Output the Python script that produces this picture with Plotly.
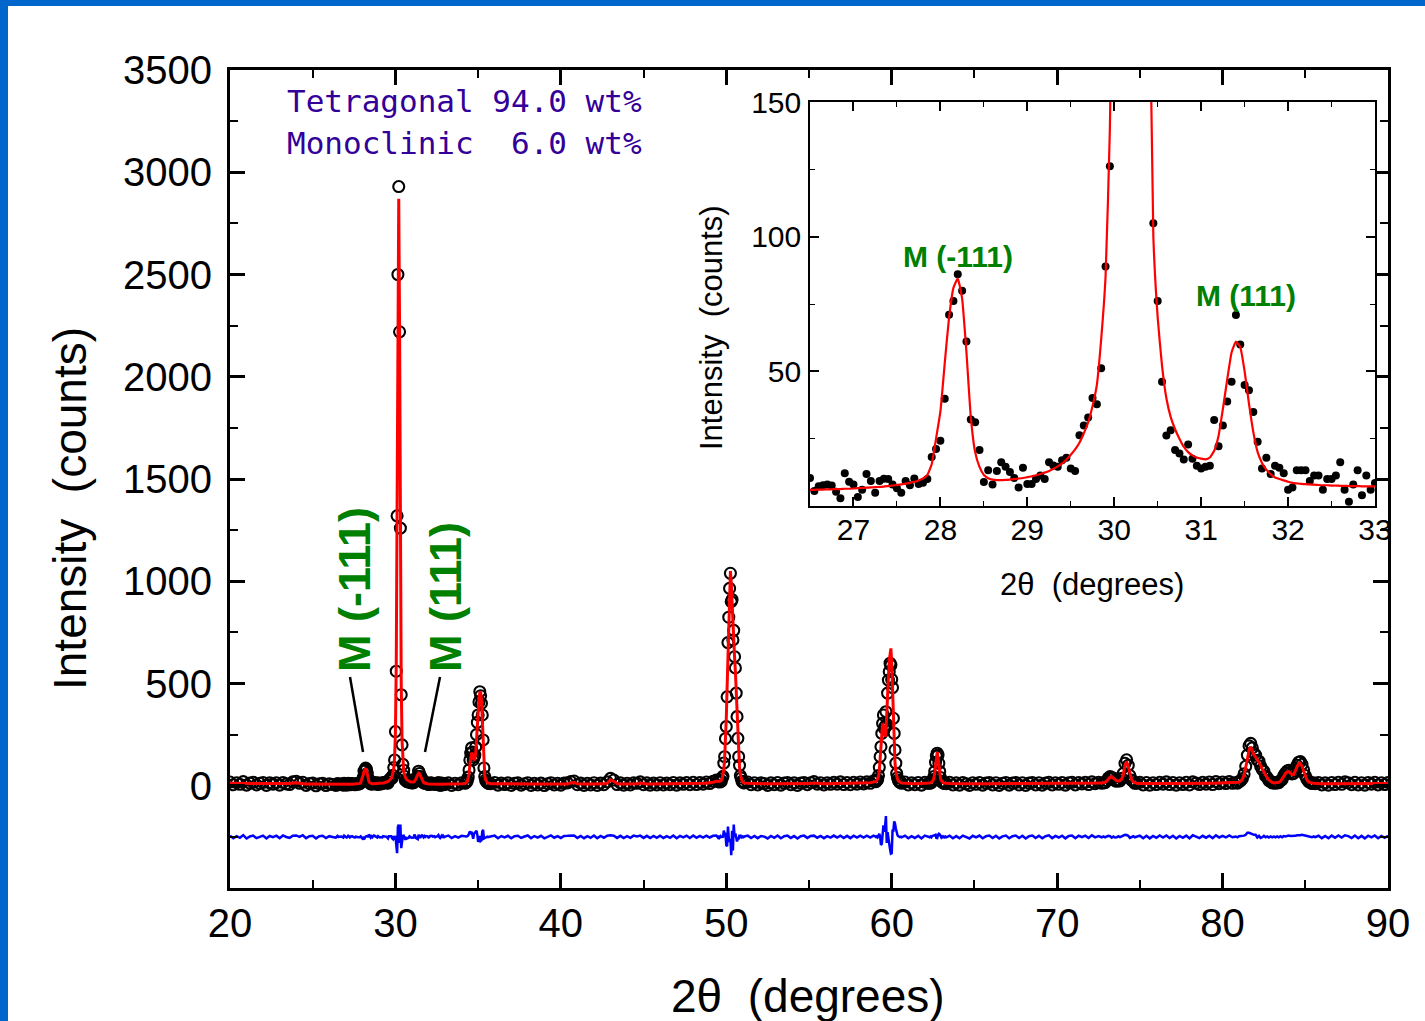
import numpy as np
import plotly.graph_objects as go

# ------------------------------------------------------------------ data
# Each stretch of the scan: first 2-theta value and step (degrees)
seg_start = [20.0, 26.5, 33.2, 34.2, 36.0, 49.5, 51.3, 59.0, 60.8, 62.3, 63.5, 72.8, 75.0, 80.8, 85.8]
seg_step = [0.2, 0.05, 0.2, 0.05, 0.2, 0.05, 0.2, 0.05, 0.2, 0.05, 0.2, 0.1, 0.2, 0.1, 0.2]

# observed counts / calculated (Rietveld) counts for each stretch
obs_20_26 = [18, 5, 15, 7, 20, 3, 13, 17, 4, 12, 16, 2, 14, 8, 15, 3, 16, 9, 6, 19,
             22, 12, 17, 2, 11, 13, 0, 10, 12, 1, 10, 6, 2]
calc_20_26 = [12.0, 11.8, 11.6, 11.4, 11.2, 11.0, 10.8, 10.6, 10.4, 10.2, 10.0, 9.8, 9.6, 9.4,
              9.2, 9.1, 9.2, 9.6, 10.5, 13.0, 15.0, 12.0, 9.0, 8.4, 8.0, 7.7, 7.4, 7.1, 6.9,
              6.7, 6.5, 6.3, 6.1]

obs_26_33 = [10.4, 5.6, 7.3, 7.7, 8.0, 7.6, 5.3, 2.9, 12.2, 9.0, 8.0, 3.3, 6.0, 11.9, 9.3,
             4.9, 9.3, 10.1, 10.0, 8.0, 6.6, 4.9, 9.3, 7.7, 10.2, 8.2, 8.6, 10.0,
             18.2, 21.2, 24.2, 39.8, 71.0, 76.1, 86.0, 79.9, 61.1, 32.1, 31.1, 20.8, 8.9,
             13.3, 8.0, 13.0, 16.2, 14.6, 12.6, 10.4, 6.9, 14.2, 8.2, 8.2, 10.0, 11.3, 10.0,
             16.2, 15.0, 14.6, 17.0, 17.9, 13.9, 13.0, 26.3, 29.9, 32.9, 40.1, 37.8, 51.1,
             88.9, 126.1,
             265, 560, 1320, 2500, 2930, 2220, 1260, 445, 200, 105,
             76.1, 46.1, 26.2, 28.1, 20.8, 19.5, 17.3, 22.8, 17.5, 14.9, 13.9, 14.6, 14.9,
             31.9, 22.2, 29.9, 38.8, 46.1, 70.9, 60.0, 44.9, 43.0, 34.9, 23.9, 13.9, 17.9,
             11.9, 14.9, 14.2, 12.2, 6.0, 6.9, 13.3, 13.3, 13.3, 9.3, 11.3, 11.3, 6.0, 10.0,
             10.0, 11.3, 16.2, 6.0, 1.6, 8.0, 13.3, 4.0, 11.3, 6.0, 8.5]
calc_26_33 = [6.0, 6.0, 6.1, 6.1, 6.2, 6.2, 6.3, 6.3, 6.4, 6.4, 6.5, 6.6, 6.7, 6.8, 6.9, 7.0,
              7.1, 7.2, 7.4, 7.6, 7.8, 8.0, 8.3, 8.6, 9.0, 9.5, 10.2, 11.5,
              15.5, 25.0, 35.0, 53.0, 70.0, 81.0, 84.5, 77.0, 57.0, 33.0, 20.0, 14.5, 11.5,
              10.3, 9.8, 9.6, 9.6, 9.7, 9.8, 10.0, 10.2, 10.4, 10.7, 11.0, 11.4, 11.9, 12.4,
              13.0, 13.8, 14.7, 15.8, 17.2, 19.0, 21.0, 23.5, 27.0, 31.0, 37.0, 45.0, 62.0,
              85.0, 140.0,
              260, 600, 1400, 2450, 2870, 2250, 1200, 500, 220, 100,
              70, 52, 40, 33, 28.5, 25, 22, 20, 18.8, 18.0, 17.6, 17.3, 18.0, 20.5, 26.0,
              36.0, 47.0, 57.0, 61.0, 59.0, 50.0, 38.0, 27.5, 20.0, 16.0, 13.5, 11.8, 10.6,
              10.0, 9.5, 9.0, 8.6, 8.4, 8.2, 8.1, 8.0, 7.9, 7.8, 7.7, 7.7, 7.6, 7.6, 7.5,
              7.5, 7.4, 7.4, 7.4, 7.3, 7.3, 7.3, 7.3]

obs_33_34 = [14, 2, 12, 5, 15]
calc_33_34 = [7.5, 7.8, 8.2, 8.8, 9.8]

obs_34_36 = [12, 15, 18, 26, 42, 77, 126, 160, 185, 165, 126, 140, 150, 190, 250, 310, 346,
             410, 460, 440, 403, 346, 224, 87, 45, 28, 20, 17, 13, 12, 12, 10]
calc_34_36 = [11, 13, 16, 22, 35, 60, 100, 140, 160, 155, 135, 125, 130, 160, 220, 300, 370,
              425, 455, 460, 420, 320, 190, 95, 50, 30, 20, 16, 14, 12, 11, 10]

obs_36_49 = [16, 3, 13, 6, 14, 2, 12, 14, 3, 10,
             15, 2, 12, 4, 13, 1, 10, 15, 4, 12,
             3, 13, 14, 20, 23, 5, 13, 2, 12, 4,
             15, 2, 13, 5, 19, 36, 28, 6, 14, 3,
             12, 4, 15, 12, 19, 5, 14, 3, 13, 4,
             15, 4, 13, 5, 16, 3, 14, 7, 16, 5,
             17, 6, 16, 8, 18, 11, 22, 28]
calc_36_49 = [10.0, 9.5, 9.0, 8.8, 8.6, 8.5, 8.4, 8.3, 8.2, 8.2,
              8.1, 8.1, 8.0, 8.0, 8.0, 8.0, 8.0, 8.0, 8.1, 8.1,
              8.2, 8.4, 9.0, 14.0, 16.0, 10.0, 8.6, 8.4, 8.3, 8.3,
              8.4, 8.5, 8.7, 9.2, 13.0, 28.0, 22.0, 11.0, 9.0, 8.7,
              8.6, 8.6, 8.8, 10.0, 13.0, 10.0, 9.0, 8.8, 8.8, 8.9,
              9.0, 9.1, 9.2, 9.3, 9.4, 9.5, 9.6, 9.8, 10.0, 10.2,
              10.5, 10.8, 11.2, 11.8, 12.6, 14.0, 17.0, 22.0]

obs_49_51 = [20, 27, 18, 25, 22, 38, 46, 111, 142, 230, 289, 435, 700, 824, 965, 1039, 900,
             910, 713, 760, 631, 576, 453, 338, 232, 142, 100, 50, 38, 22, 20, 14, 15]
calc_49_51 = [24, 22, 21, 22, 26, 34, 50, 80, 130, 210, 330, 480, 650, 830, 990, 1050, 990,
              880, 780, 700, 630, 560, 470, 360, 240, 150, 90, 55, 35, 24, 18, 15, 13]

obs_51_59 = [18, 5, 15, 4, 14, 11, 2, 14, 5, 16,
             3, 13, 16, 5, 14, 2, 13, 16, 5, 15,
             20, 8, 15, 4, 14, 7, 17, 8, 19, 6,
             16, 5, 17, 8, 18, 9, 19, 12, 24]
calc_51_59 = [12.0, 11.0, 10.5, 10.2, 10.0, 9.8, 9.7, 9.6, 9.5, 9.5,
              9.5, 9.6, 9.8, 10.2, 10.0, 9.8, 9.8, 9.9, 10.0, 10.5,
              14.0, 12.0, 10.5, 10.3, 10.3, 10.4, 10.6, 11.5, 13.0, 11.5,
              11.0, 11.0, 11.2, 11.5, 12.0, 12.5, 13.5, 15.0, 18.0]

obs_59_61 = [22, 20, 28, 30, 50, 90, 142, 191, 256, 305, 346, 280, 290, 362, 300, 453, 517,
             558, 599, 590, 520, 480, 330, 256, 175, 111, 60, 40, 28, 20, 16, 16, 12]
calc_59_61 = [19, 21, 25, 32, 45, 75, 140, 230, 290, 305, 290, 255, 240, 260, 330, 430, 530,
              610, 660, 672, 600, 450, 300, 180, 110, 70, 45, 32, 25, 20, 17, 15, 14]

obs_61_62 = [18, 4, 14, 5, 16, 3, 17, 12]
calc_61_62 = [12, 11, 10.5, 10.3, 10.3, 10.5, 11, 13]

obs_62_63 = [12, 17, 15, 24, 30, 45, 70, 115, 145, 159, 150, 110, 70, 40, 22, 21, 14, 16, 11,
             13, 10]
calc_62_63 = [14, 15, 17, 20, 26, 38, 62, 105, 150, 165, 140, 95, 58, 36, 25, 19, 16, 14, 13,
              12, 12]

obs_63_73 = [17, 4, 14, 3, 16, 9, 2, 15, 7, 16,
             3, 13, 16, 4, 15, 2, 12, 16, 3, 13,
             16, 4, 15, 2, 13, 16, 4, 15, 3, 13,
             17, 4, 15, 7, 16, 3, 15, 17, 4, 16,
             9, 17, 6, 19, 10, 17, 12]
calc_63_73 = [11.0, 10.5, 10.2, 10.0, 10.0, 9.9, 9.9, 9.8, 9.8, 9.8,
              9.7, 9.7, 9.7, 9.6, 9.6, 9.6, 9.6, 9.5, 9.5, 9.5,
              9.5, 9.5, 9.5, 9.6, 9.6, 9.6, 9.7, 9.7, 9.7, 9.8,
              9.8, 9.9, 10.0, 10.0, 10.1, 10.2, 10.3, 10.4, 10.5, 10.6,
              10.8, 11.0, 11.3, 11.7, 12.2, 13.0, 14.0]

obs_73_75 = [16, 15, 25, 38, 45, 40, 38, 25, 22, 26, 24, 36, 60, 110, 127, 100, 50, 28, 22,
             12, 13]
calc_73_75 = [14, 17, 23, 33, 42, 44, 36, 28, 24, 23, 25, 32, 55, 100, 118, 95, 55, 30, 19,
              14, 12]

obs_75_81 = [17, 4, 16, 3, 15, 6, 17, 8, 19, 6,
             16, 3, 15, 6, 17, 4, 19, 13, 6, 17,
             8, 18, 6, 20, 10, 18, 11, 21, 12]
calc_75_81 = [11.0, 10.5, 10.3, 10.2, 10.2, 10.3, 10.5, 11.5, 12.5, 11.5,
              10.8, 10.6, 10.6, 10.7, 10.8, 11.0, 11.2, 11.4, 11.6, 11.8,
              12.0, 12.2, 12.5, 12.8, 13.0, 13.4, 13.8, 14.2, 14.0]

obs_81_86 = [16, 13, 20, 25, 35, 58, 95, 150, 195, 207, 185, 160, 150, 125, 120, 95, 80, 70,
             48, 40, 25, 22, 14, 15, 12, 17, 15, 25, 30, 50, 62, 72, 75, 66, 58, 60, 75, 100,
             115, 118, 105, 78, 50, 32, 20, 17, 11, 14, 10]
calc_81_86 = [14, 15, 17, 22, 32, 52, 85, 130, 175, 191, 170, 150, 140, 128, 115, 100, 82, 65,
              50, 38, 28, 20, 16, 14, 14, 15, 17, 22, 32, 46, 60, 68, 69, 62, 54, 55, 70, 92,
              108, 110, 95, 70, 45, 28, 19, 15, 13, 12, 11]

obs_86_90 = [16, 4, 14, 3, 16, 6, 17, 7, 19, 15, 5, 17, 4, 15, 3, 16, 8, 17, 4, 15, 6, 16]
calc_86_90 = [10.5, 10.2, 10.0, 10.0, 10.0, 10.1, 10.2, 10.5, 11.0, 11.5, 11.0, 10.6, 10.4,
              10.3, 10.3, 10.3, 10.4, 10.4, 10.5, 10.5, 10.6, 10.6]

diff_offset = -250  # difference curve is drawn shifted down by this amount

# tick values
main_xticks = [20, 30, 40, 50, 60, 70, 80, 90]
main_yticks = [0, 500, 1000, 1500, 2000, 2500, 3000, 3500]
inset_xticks = [27, 28, 29, 30, 31, 32, 33]
inset_yticks = [50, 100, 150]

# ------------------------------------------------------------------ assemble
obs_parts = [obs_20_26, obs_26_33, obs_33_34, obs_34_36, obs_36_49, obs_49_51, obs_51_59,
             obs_59_61, obs_61_62, obs_62_63, obs_63_73, obs_73_75, obs_75_81, obs_81_86,
             obs_86_90]
calc_parts = [calc_20_26, calc_26_33, calc_33_34, calc_34_36, calc_36_49, calc_49_51,
              calc_51_59, calc_59_61, calc_61_62, calc_62_63, calc_63_73, calc_73_75,
              calc_75_81, calc_81_86, calc_86_90]

tt, yo, yc = [], [], []
for s, st, o, c in zip(seg_start, seg_step, obs_parts, calc_parts):
    n = min(len(o), len(c))
    tt.extend(np.round(s + st * np.arange(n), 3))
    yo.extend(o[:n])
    yc.extend(c[:n])
tt = np.array(tt)
yo = np.array(yo, dtype=float)
yc = np.array(yc, dtype=float)
ydiff = yo - yc + diff_offset

n_in = min(len(obs_26_33), len(calc_26_33))
tt_in = np.round(seg_start[1] + seg_step[1] * np.arange(n_in), 3)
yo_in = np.array(obs_26_33[:n_in], dtype=float)
yc_in = np.array(calc_26_33[:n_in], dtype=float)

# ------------------------------------------------------------------ layout helpers
W, H = 1425, 1021
L, R, T, B = 230, 1388, 70, 888


def px(p):
    return (p - L) / (R - L)


def py(p):
    return (B - p) / (B - T)


FONT = "Liberation Sans, Arial, Helvetica, sans-serif"
GREEN = "#008000"
PURPLE = "#330099"

fig = go.Figure()

# main panel
fig.add_trace(go.Scatter(x=tt, y=yo, mode="markers", xaxis="x", yaxis="y",
                         marker=dict(symbol="circle-open", size=11, color="black",
                                     line=dict(width=2.1, color="black")),
                         hoverinfo="skip"))
fig.add_trace(go.Scatter(x=tt, y=yc, mode="lines", xaxis="x", yaxis="y",
                         line=dict(color="#ff0000", width=3), hoverinfo="skip"))
fig.add_trace(go.Scatter(x=tt, y=ydiff, mode="lines", xaxis="x", yaxis="y",
                         line=dict(color="#0000ff", width=2.5), hoverinfo="skip"))

# inset
fig.add_trace(go.Scatter(x=tt_in, y=yo_in, mode="markers", xaxis="x2", yaxis="y2",
                         marker=dict(symbol="circle", size=8, color="black"),
                         hoverinfo="skip"))
fig.add_trace(go.Scatter(x=tt_in, y=yc_in, mode="lines", xaxis="x2", yaxis="y2",
                         line=dict(color="#ff0000", width=2.2, shape="spline", smoothing=0.4),
                         hoverinfo="skip"))

main_ax = dict(showgrid=False, zeroline=False, showline=True, linecolor="black",
               linewidth=3, mirror="ticks", ticks="inside", tickcolor="black",
               tickwidth=2.5, ticklen=15,
               tickfont=dict(family=FONT, size=40, color="black"))
inset_ax = dict(showgrid=False, zeroline=False, showline=True, linecolor="black",
                linewidth=1.6, mirror="ticks", ticks="inside", tickcolor="black",
                tickwidth=1.5, ticklen=9,
                tickfont=dict(family=FONT, size=30, color="black"))

fig.update_layout(
    width=W, height=H,
    margin=dict(l=L, r=W - R, t=T, b=H - B, pad=0),
    paper_bgcolor="white", plot_bgcolor="white",
    showlegend=False, hovermode=False,
    xaxis=dict(main_ax, domain=[0, 1], range=[20, 90], tickvals=main_xticks,
               ticklabelstandoff=-2,
               minor=dict(ticks="inside", dtick=5, tick0=20, ticklen=8, tickwidth=2,
                          tickcolor="black")),
    yaxis=dict(main_ax, domain=[0, 1], range=[-500, 3500], tickvals=main_yticks,
               ticklabelstandoff=7,
               minor=dict(ticks="inside", dtick=250, tick0=0, ticklen=8, tickwidth=2,
                          tickcolor="black")),
    xaxis2=dict(inset_ax, domain=[px(810), px(1375)], anchor="y2", range=[26.5, 33],
                tickvals=inset_xticks, ticklabelstandoff=-4,
                minor=dict(ticks="inside", dtick=0.5, tick0=26.5, ticklen=5, tickwidth=1.2,
                           tickcolor="black")),
    yaxis2=dict(inset_ax, domain=[py(506), py(102)], anchor="x2", range=[0, 150],
                tickvals=inset_yticks, ticklabelstandoff=1,
                minor=dict(ticks="inside", dtick=25, tick0=0, ticklen=5, tickwidth=1.2,
                           tickcolor="black")),
)

ann = []
# axis titles
ann.append(dict(text="Intensity\u00a0 (counts)", x=px(70), y=py(509), textangle=-90,
                font=dict(family=FONT, size=46, color="black")))
ann.append(dict(text="2\u03b8\u00a0 (degrees)", x=px(808), y=py(996),
                font=dict(family=FONT, size=46, color="black")))
ann.append(dict(text="Intensity\u00a0 (counts)", x=px(712), y=py(328), textangle=-90,
                font=dict(family=FONT, size=31, color="black")))
ann.append(dict(text="2\u03b8\u00a0 (degrees)", x=px(1092), y=py(584),
                font=dict(family=FONT, size=31, color="black")))
# phase fractions
ann.append(dict(text="Tetragonal 94.0 wt%", x=px(464), y=py(101),
                font=dict(family="DejaVu Sans Mono, monospace", size=31, color=PURPLE)))
ann.append(dict(text="Monoclinic\u00a0 6.0 wt%", x=px(464), y=py(143),
                font=dict(family="DejaVu Sans Mono, monospace", size=31, color=PURPLE)))
# peak labels, main
ann.append(dict(text="<b>M (-111)</b>", x=px(354), y=py(590), textangle=-90,
                font=dict(family=FONT, size=45, color=GREEN)))
ann.append(dict(text="<b>M (111)</b>", x=px(445), y=py(597), textangle=-90,
                font=dict(family=FONT, size=45, color=GREEN)))
# peak labels, inset
ann.append(dict(text="<b>M (-111)</b>", x=px(958), y=py(256),
                font=dict(family=FONT, size=30, color=GREEN)))
ann.append(dict(text="<b>M (111)</b>", x=px(1246), y=py(295),
                font=dict(family=FONT, size=30, color=GREEN)))
for a in ann:
    a.update(xref="paper", yref="paper", showarrow=False, xanchor="center", yanchor="middle")
fig.update_layout(annotations=ann)

shapes = [
    # pointer lines to the monoclinic peaks
    dict(type="line", xref="paper", yref="paper", x0=px(350), y0=py(677), x1=px(363),
         y1=py(752), line=dict(color="black", width=2.5)),
    dict(type="line", xref="paper", yref="paper", x0=px(440), y0=py(677), x1=px(425),
         y1=py(752), line=dict(color="black", width=2.5)),
    # blue frame (top and left)
    dict(type="rect", xref="paper", yref="paper", x0=px(0), x1=px(W), y0=py(6), y1=py(0),
         fillcolor="#0066CC", line=dict(width=0), layer="above"),
    dict(type="rect", xref="paper", yref="paper", x0=px(0), x1=px(8), y0=py(H), y1=py(0),
         fillcolor="#0066CC", line=dict(width=0), layer="above"),
]
fig.update_layout(shapes=shapes)

fig.write_html("out.html", config=dict(displayModeBar=False))
